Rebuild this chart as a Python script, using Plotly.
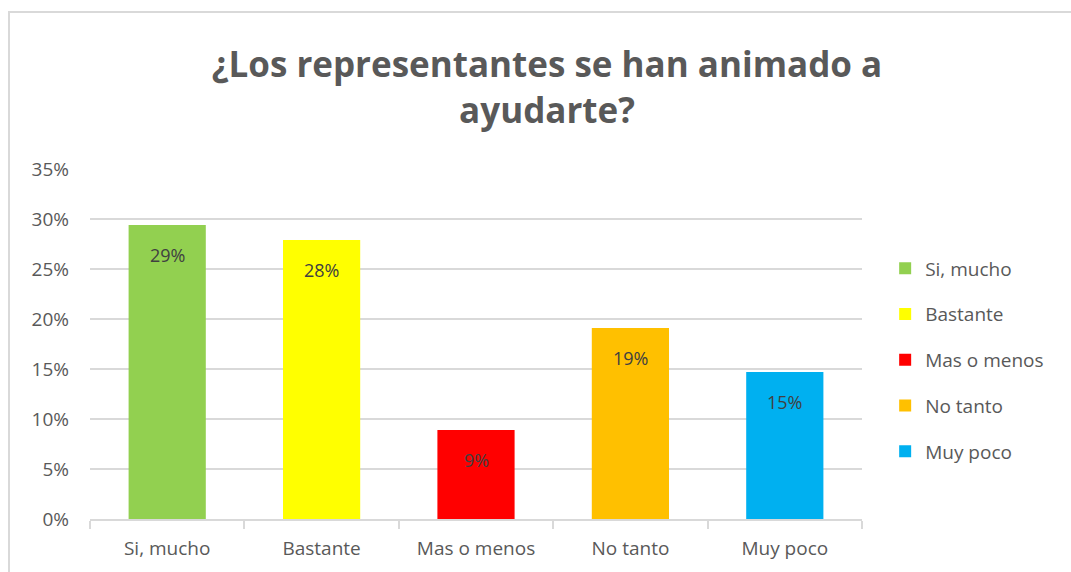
import plotly.graph_objects as go

categories = ["Si, mucho", "Bastante", "Mas o menos", "No tanto", "Muy poco"]
values = [0.294, 0.279, 0.089, 0.191, 0.147]
labels = ["29%", "28%", "9%", "19%", "15%"]
colors = ["#92D050", "#FFFF00", "#FF0000", "#FFC000", "#00B0F0"]

fig = go.Figure()
for i, (cat, val, col) in enumerate(zip(categories, values, colors)):
    fig.add_trace(go.Bar(
        x=[cat], y=[val], name=cat, marker=dict(color=col, line=dict(width=0)),
        legendgroup=f"g{i}", width=0.5, hoverinfo="x+y",
    ))

annotations = [
    dict(x=cat, y=val, xref="x", yref="y", text=lab, showarrow=False,
         yanchor="top", yshift=-16,
         font=dict(size=18, color="#404040", family="Open Sans"))
    for cat, val, lab in zip(categories, values, labels)
]

fig.update_layout(
    width=1071, height=572,
    margin=dict(l=90, r=209, t=169, b=53),
    paper_bgcolor="white", plot_bgcolor="white",
    barmode="overlay",
    title=dict(
        text="<b>¿Los representantes se han animado a<br>ayudarte?</b>",
        x=(547 - 90) / 772, xref="paper", xanchor="center",
        y=1 - 77 / 572, yref="container", yanchor="middle",
        font=dict(family="Open Sans", size=35, color="#595959"),
    ),
    font=dict(family="Open Sans", color="#595959"),
    legend=dict(
        x=1.03, xanchor="left", y=(519 - 360) / 350, yanchor="middle",
        font=dict(size=19, color="#595959"),
        tracegroupgap=18, itemwidth=30,
    ),
    annotations=annotations,
    xaxis=dict(
        categoryorder="array", categoryarray=categories,
        showline=True, linecolor="#d9d9d9", linewidth=2,
        ticks="outside", tickson="boundaries", ticklen=8, tickcolor="#d9d9d9", tickwidth=2,
        tickfont=dict(size=19, color="#595959"), ticklabelstandoff=11,
        showgrid=False,
    ),
    yaxis=dict(
        range=[0, 0.35], dtick=0.05, tickformat=".0%",
        showgrid=True, gridcolor="#d9d9d9", gridwidth=1.5,
        zeroline=False, showline=False,
        tickfont=dict(size=19, color="#595959"), ticklabelstandoff=20,
    ),
    shapes=[dict(
        type="rect", xref="paper", yref="paper",
        x0=(9 - 90) / 772, x1=(1085 - 90) / 772,
        y0=(519 - 580) / 350, y1=(519 - 12) / 350,
        line=dict(color="#d9d9d9", width=2), fillcolor="rgba(0,0,0,0)", layer="below",
    )],
)

fig.write_html("out.html")
